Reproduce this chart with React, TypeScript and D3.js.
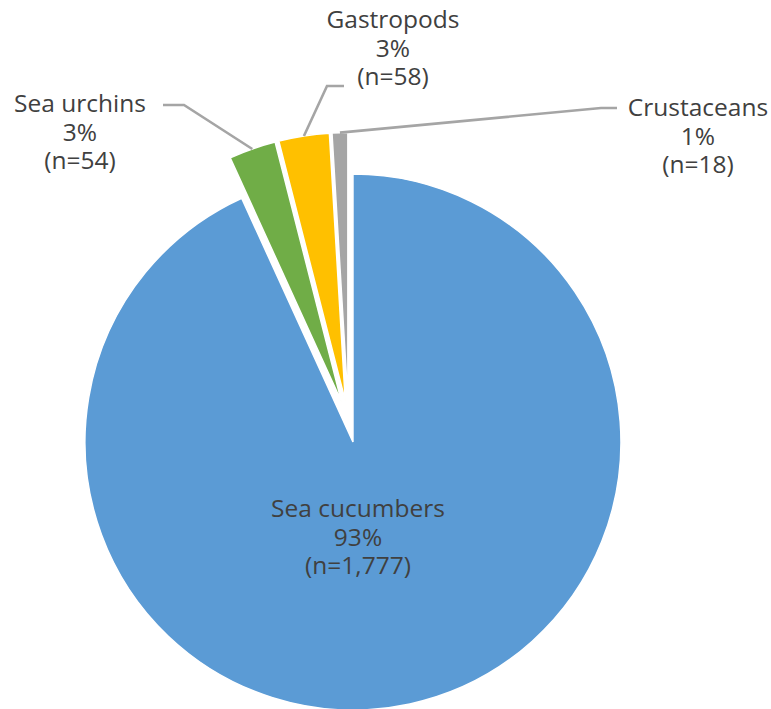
import React, { useRef, useEffect } from 'react';
import * as d3 from 'd3';

// Catch composition by taxon
const categories = ['Sea cucumbers', 'Sea urchins', 'Gastropods', 'Crustaceans'];
const counts = [1777, 54, 58, 18];
const colors = ['#5B9BD5', '#70AD47', '#FFC000', '#A5A5A5'];

type Slice = { name: string; value: number; color: string };

const W = 771;
const H = 709;

const App: React.FC = () => {
  const ref = useRef<SVGSVGElement | null>(null);

  useEffect(() => {
    if (!ref.current) return;
    const svg = d3.select(ref.current);
    svg.selectAll('*').remove();

    const cx = 348.5;
    const cy = 421.5;
    const radius = 268;
    const explode = 21;

    const data: Slice[] = categories.map((name, i) => ({
      name,
      value: counts[i],
      color: colors[i],
    }));
    const total = d3.sum(counts);
    const pct = d3.format('.0%');
    const num = d3.format(',');

    const pie = d3
      .pie<Slice>()
      .sort(null)
      .value((d) => d.value)
      .startAngle(0)
      .endAngle(2 * Math.PI);
    const arcs = pie(data);
    const arc = d3.arc<d3.PieArcDatum<Slice>>().innerRadius(0).outerRadius(radius);

    const mid = (a: d3.PieArcDatum<Slice>) => (a.startAngle + a.endAngle) / 2;
    const offset = (a: d3.PieArcDatum<Slice>) => {
      const m = mid(a);
      return [explode * Math.sin(m), -explode * Math.cos(m)];
    };

    const g = svg.append('g').attr('transform', `translate(${cx},${cy})`);

    g.selectAll('path.slice')
      .data(arcs)
      .join('path')
      .attr('class', 'slice')
      .attr('transform', (a) => {
        const [dx, dy] = offset(a);
        return `translate(${dx},${dy})`;
      })
      .attr('d', arc)
      .attr('fill', (a) => a.data.color)
      .attr('stroke', '#fff')
      .attr('stroke-width', 1.5);

    // label layout: centre x, first baseline, and label-side leader points
    const layout: Record<string, { x: number; y: number; leader?: [number, number][] }> = {
      'Sea cucumbers': { x: 358, y: 517 },
      'Sea urchins': { x: 80, y: 112, leader: [[163, 105], [184, 105]] },
      Gastropods: { x: 393, y: 28, leader: [[344, 86], [327, 86]] },
      Crustaceans: { x: 698, y: 116, leader: [[617, 108], [601, 108]] },
    };

    const lineH = 28.7;
    arcs.forEach((a) => {
      const L = layout[a.data.name];
      if (L.leader) {
        const [dx, dy] = offset(a);
        const m = mid(a);
        const edge: [number, number] = [
          cx + dx + radius * Math.sin(m),
          cy + dy - radius * Math.cos(m),
        ];
        svg
          .append('path')
          .attr('d', d3.line()([...L.leader, edge]))
          .attr('fill', 'none')
          .attr('stroke', '#A5A5A5')
          .attr('stroke-width', 2.6);
      }
      const lines = [a.data.name, pct(a.data.value / total), `(n=${num(a.data.value)})`];
      const t = svg
        .append('text')
        .attr('text-anchor', 'middle')
        .attr('font-family', '"Open Sans", sans-serif')
        .attr('font-size', 24.5)
        .attr('fill', '#404040');
      lines.forEach((s, i) => {
        t.append('tspan').attr('x', L.x).attr('y', L.y + i * lineH).text(s);
      });
    });
  }, []);

  return (
    <svg
      ref={ref}
      width={W}
      height={H}
      style={{ position: 'absolute', left: 0, top: 0, background: '#fff' }}
    />
  );
};

export default App;
